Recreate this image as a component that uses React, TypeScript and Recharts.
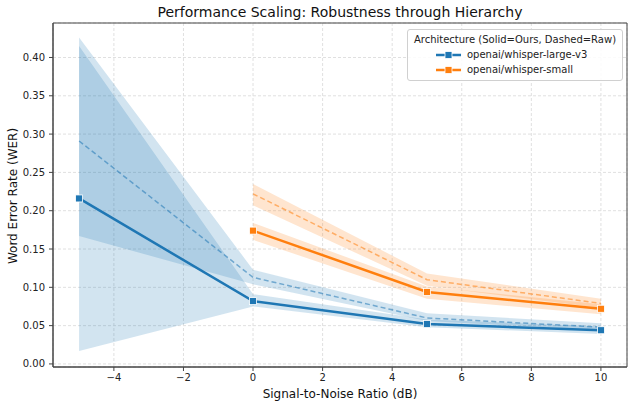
import {
  Area,
  CartesianGrid,
  ComposedChart,
  Legend,
  Line,
  ReferenceArea,
  XAxis,
  YAxis,
} from "recharts";

const snr = [-5, 0, 5, 10];

// openai/whisper-large-v3
const largeOurs = [0.216, 0.082, 0.052, 0.044];
const largeOursLow = [0.017, 0.075, 0.048, 0.039];
const largeOursHigh = [0.415, 0.091, 0.058, 0.049];
const largeRaw = [0.291, 0.113, 0.06, 0.048];
const largeRawLow = [0.167, 0.104, 0.056, 0.044];
const largeRawHigh = [0.426, 0.123, 0.066, 0.053];

// openai/whisper-small (not run at -5 dB)
const smallOurs = [null, 0.174, 0.094, 0.072];
const smallOursLow = [null, 0.162, 0.085, 0.065];
const smallOursHigh = [null, 0.184, 0.101, 0.078];
const smallRaw = [null, 0.222, 0.11, 0.079];
const smallRawLow = [null, 0.207, 0.102, 0.073];
const smallRawHigh = [null, 0.235, 0.118, 0.085];

const models = ["openai/whisper-large-v3", "openai/whisper-small"];
const xTicks = [-4, -2, 0, 2, 4, 6, 8, 10];
const yTicks = [0, 0.05, 0.1, 0.15, 0.2, 0.25, 0.3, 0.35, 0.4];

const BLUE = "#1f77b4";
const ORANGE = "#ff7f0e";
const colors = [BLUE, ORANGE];

const band = (lo: (number | null)[], hi: (number | null)[], i: number) =>
  lo[i] == null || hi[i] == null ? null : [lo[i], hi[i]];

const data = snr.map((x, i) => ({
  snr: x,
  largeOurs: largeOurs[i],
  largeOursBand: band(largeOursLow, largeOursHigh, i),
  largeRaw: largeRaw[i],
  largeRawBand: band(largeRawLow, largeRawHigh, i),
  smallOurs: smallOurs[i],
  smallOursBand: band(smallOursLow, smallOursHigh, i),
  smallRaw: smallRaw[i],
  smallRawBand: band(smallRawLow, smallRawHigh, i),
}));

const font = "'DejaVu Sans', sans-serif";
const tickStyle = { fontSize: 10, fill: "#222", fontFamily: font };

function squareDot(color: string) {
  return (props: any) => {
    const { cx, cy, index } = props;
    if (cx == null || cy == null) return <g key={index} />;
    return (
      <rect
        key={index}
        x={cx - 3.5}
        y={cy - 3.5}
        width={7}
        height={7}
        fill={color}
        stroke="#fff"
        strokeWidth={0.8}
      />
    );
  };
}

function ArchLegend() {
  return (
    <div
      style={{
        border: "1px solid #d0d0d0",
        borderRadius: 3,
        background: "rgba(255,255,255,0.85)",
        padding: "2px 0 3px 0",
        fontSize: 10,
        color: "#222",
        fontFamily: font,
        lineHeight: "15px",
        width: 214,
      }}
    >
      <div style={{ textAlign: "center" }}>Architecture (Solid=Ours, Dashed=Raw)</div>
      {models.map((m, i) => (
        <div key={m} style={{ display: "flex", alignItems: "center", paddingLeft: 28 }}>
          <svg width={25} height={10} style={{ marginRight: 6 }}>
            <line x1={0} y1={5} x2={25} y2={5} stroke={colors[i]} strokeWidth={2.5} />
            <rect x={9} y={1.5} width={7} height={7} fill={colors[i]} stroke="#fff" strokeWidth={0.8} />
          </svg>
          <span>{m}</span>
        </div>
      ))}
    </div>
  );
}

export default function App() {
  return (
    <div
      style={{
        position: "absolute",
        left: 0,
        top: 0,
        width: 634,
        height: 406,
        background: "#fff",
        fontFamily: font,
      }}
    >
      <div
        style={{
          position: "absolute",
          left: 53,
          width: 574,
          top: 4,
          textAlign: "center",
          fontSize: 14,
          color: "#111",
        }}
      >
        Performance Scaling: Robustness through Hierarchy
      </div>
      <div
        style={{
          position: "absolute",
          left: 13,
          top: 196,
          transform: "translate(-50%, -50%) rotate(-90deg)",
          whiteSpace: "nowrap",
          fontSize: 12,
          color: "#111",
        }}
      >
        Word Error Rate (WER)
      </div>
      <div
        style={{
          position: "absolute",
          left: 53,
          width: 574,
          top: 387,
          textAlign: "center",
          fontSize: 12,
          color: "#111",
        }}
      >
        Signal-to-Noise Ratio (dB)
      </div>
      <ComposedChart
        width={634}
        height={406}
        data={data}
        margin={{ top: 23, right: 7, bottom: 0, left: 0 }}
      >
        <CartesianGrid stroke="#e0e0e0" strokeDasharray="3 2" />
        <XAxis
          dataKey="snr"
          type="number"
          domain={[-5.75, 10.75]}
          ticks={xTicks}
          height={39}
          tick={tickStyle}
          tickSize={4}
          tickMargin={3}
          stroke="#444"
          tickFormatter={(v: number) => (v < 0 ? `\u2212${-v}` : `${v}`)}
          allowDataOverflow
        />
        <YAxis
          type="number"
          domain={[-0.004, 0.445]}
          ticks={yTicks}
          width={53}
          tick={tickStyle}
          tickSize={4}
          tickMargin={4}
          stroke="#444"
          tickFormatter={(v: number) => v.toFixed(2)}
          allowDataOverflow
        />
        <Area dataKey="largeOursBand" type="linear" stroke="none" fill={BLUE} fillOpacity={0.2} isAnimationActive={false} />
        <Area dataKey="largeRawBand" type="linear" stroke="none" fill={BLUE} fillOpacity={0.2} isAnimationActive={false} />
        <Area dataKey="smallOursBand" type="linear" stroke="none" fill={ORANGE} fillOpacity={0.2} isAnimationActive={false} />
        <Area dataKey="smallRawBand" type="linear" stroke="none" fill={ORANGE} fillOpacity={0.2} isAnimationActive={false} />
        <Line dataKey="largeRaw" type="linear" stroke={BLUE} strokeOpacity={0.55} strokeWidth={1.5} strokeDasharray="5 3" dot={false} isAnimationActive={false} />
        <Line dataKey="smallRaw" type="linear" stroke={ORANGE} strokeOpacity={0.55} strokeWidth={1.5} strokeDasharray="5 3" dot={false} isAnimationActive={false} />
        <Line dataKey="largeOurs" type="linear" stroke={BLUE} strokeWidth={2.5} dot={squareDot(BLUE)} isAnimationActive={false} />
        <Line dataKey="smallOurs" type="linear" stroke={ORANGE} strokeWidth={2.5} dot={squareDot(ORANGE)} isAnimationActive={false} />
        <ReferenceArea x1={-5.75} x2={10.75} y1={-0.004} y2={0.445} fill="none" stroke="#444" strokeWidth={1} ifOverflow="visible" />
        <Legend
          layout="vertical"
          align="center"
          verticalAlign="middle"
          content={() => <ArchLegend />}
          wrapperStyle={{ position: "absolute", top: 29, left: 407, width: 216, height: 50 }}
        />
      </ComposedChart>
    </div>
  );
}
